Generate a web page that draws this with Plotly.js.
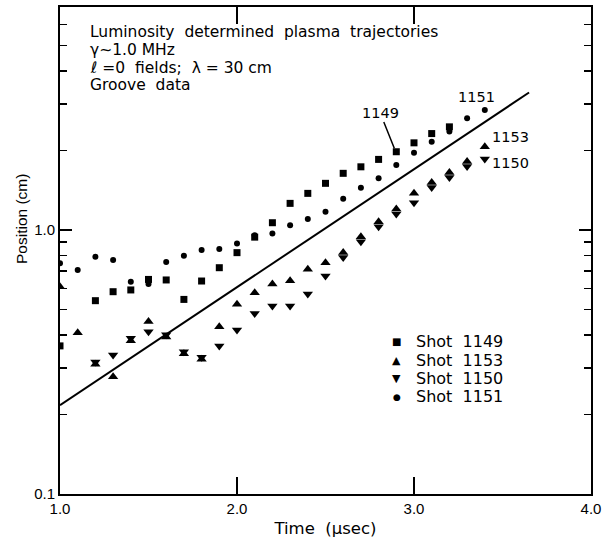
<!DOCTYPE html>
<html>
<head>
<meta charset="utf-8">
<script src="https://cdn.plot.ly/plotly-3.0.1.min.js"></script>
<style>
html,body{margin:0;padding:0;background:#fff;}
#chart{width:607px;height:543px;}
</style>
</head>
<body>
<div id="chart"></div>
<script>
// ---- data (time in microseconds, position in cm) ----
const time1149 = [1.0,1.2,1.3,1.4,1.5,1.6,1.7,1.8,1.9,2.0,2.1,2.2,2.3,2.4,2.5,2.6,2.7,2.8,2.9,3.0,3.1,3.2];
const shot1149 = [0.364,0.540,0.584,0.593,0.650,0.647,0.546,0.641,0.720,0.821,0.940,1.066,1.262,1.377,1.503,1.640,1.736,1.852,1.98,2.14,2.32,2.46];

const time1153 = [1.0,1.1,1.2,1.3,1.4,1.5,1.6,1.7,1.8,1.9,2.0,2.1,2.2,2.3,2.4,2.5,2.6,2.7,2.8,2.9,3.0,3.1,3.2,3.3,3.4];
const shot1153 = [0.610,0.408,0.310,0.278,0.381,0.450,0.393,0.340,0.324,0.430,0.524,0.579,0.624,0.643,0.710,0.752,0.822,0.943,1.075,1.201,1.377,1.513,1.651,1.817,2.07];

const time1150 = [1.2,1.3,1.4,1.5,1.6,1.7,1.8,1.9,2.0,2.1,2.2,2.3,2.4,2.5,2.6,2.7,2.8,2.9,3.0,3.1,3.2,3.3,3.4];
const shot1150 = [0.316,0.336,0.389,0.412,0.401,0.346,0.330,0.364,0.418,0.483,0.515,0.515,0.572,0.670,0.787,0.903,1.029,1.150,1.269,1.449,1.580,1.740,1.86];

const time1151 = [1.0,1.1,1.2,1.3,1.4,1.5,1.6,1.7,1.8,1.9,2.0,2.1,2.2,2.3,2.4,2.5,2.6,2.7,2.8,2.9,3.0,3.1,3.2,3.3,3.4];
const shot1151 = [0.748,0.706,0.792,0.770,0.637,0.624,0.757,0.799,0.840,0.847,0.890,0.955,0.971,1.042,1.101,1.173,1.314,1.446,1.57,1.763,1.963,2.16,2.36,2.65,2.85];

const fitTime = [1.0, 3.65];
const fitPosition = [0.217, 3.32];

const seriesNames = ['Shot 1149','Shot 1153','Shot 1150','Shot 1151'];
const legendLabels = ['Shot\u00a0\u00a01149','Shot\u00a0\u00a01153','Shot\u00a0\u00a01150','Shot\u00a0\u00a01151'];
const legendSymbols = ['\u25A0','\u25B2','\u25BC','\u25CF'];

const xTickVals = [1,2,3,4];
const xTickText = ['1.0','2.0','3.0','4.0'];
const yTickVals = [0.1,1];
const yTickText = ['0.1','1.0'];
const yMinorVals = [0.2,0.3,0.4,0.5,0.6,0.7,0.8,0.9,2,3,4,5,6];

const noteLines = [
  'Luminosity\u00a0\u00a0determined\u00a0\u00a0plasma\u00a0\u00a0trajectories',
  '\u03B3\u223C1.0\u00a0MHz',
  '\u2113\u00a0=0\u00a0\u00a0fields;\u00a0\u00a0\u03BB\u00a0=\u00a030\u00a0cm',
  'Groove\u00a0\u00a0data'
];

// ---- traces ----
const black = '#000';
const traces = [
  {x: fitTime, y: fitPosition, mode:'lines', line:{color:black, width:2}, name:'fit', hoverinfo:'skip'},
  {x: time1149, y: shot1149, mode:'markers', name: seriesNames[0], marker:{symbol:'square', size:7, color:black}},
  {x: time1153, y: shot1153, mode:'markers', name: seriesNames[1], marker:{symbol:'triangle-up', size:9, color:black}},
  {x: time1150, y: shot1150, mode:'markers', name: seriesNames[2], marker:{symbol:'triangle-down', size:9, color:black}},
  {x: time1151, y: shot1151, mode:'markers', name: seriesNames[3], marker:{symbol:'circle', size:6, color:black}}
];

// ---- layout helpers (pixel -> paper) ----
const L = 60, R = 591, T = 7, B = 494;
const px = v => (v - L) / (R - L);
const py = v => (B - v) / (B - T);

const annotations = [];
const noteY = [32, 50, 68, 85];
noteLines.forEach((s, i) => annotations.push({
  xref:'paper', yref:'paper', x:px(88), y:py(noteY[i]), xanchor:'left', yanchor:'middle',
  text:s, showarrow:false, font:{family:'DejaVu Sans', size:15.5, color:black}
}));

// shot labels
annotations.push({xref:'paper', yref:'paper', x:px(394.3), y:py(148.3), ax:380-394.3, ay:112.5-148.3,
  text:'1149', showarrow:true, arrowhead:0, arrowwidth:1.5, arrowcolor:black, standoff:0,
  font:{family:'DejaVu Sans', size:14.5, color:black}});
annotations.push({xref:'paper', yref:'paper', x:px(476.7), y:py(97.5), xanchor:'center', yanchor:'middle', text:'1151', showarrow:false, font:{family:'DejaVu Sans', size:14.5, color:black}});
annotations.push({xref:'paper', yref:'paper', x:px(490), y:py(137), xanchor:'left', yanchor:'middle', text:'1153', showarrow:false, font:{family:'DejaVu Sans', size:14.5, color:black}});
annotations.push({xref:'paper', yref:'paper', x:px(490), y:py(163.5), xanchor:'left', yanchor:'middle', text:'1150', showarrow:false, font:{family:'DejaVu Sans', size:14.5, color:black}});

// legend (drawn as text)
const legY = [341.7, 360, 378.3, 396.7];
const legSize = [10, 11, 11, 9];
legendLabels.forEach((s, i) => {
  annotations.push({xref:'paper', yref:'paper', x:px(396.7), y:py(legY[i]), xanchor:'center', yanchor:'middle',
    text:legendSymbols[i], showarrow:false, font:{family:'DejaVu Sans', size:legSize[i], color:black}});
  annotations.push({xref:'paper', yref:'paper', x:px(414), y:py(legY[i]), xanchor:'left', yanchor:'middle',
    text:s, showarrow:false, font:{family:'DejaVu Sans', size:16, color:black}});
});

// y axis title
annotations.push({xref:'paper', yref:'paper', x:px(21), y:py(219), xanchor:'center', yanchor:'middle', textangle:-90,
  text:'Position\u00a0(cm)', showarrow:false, font:{family:'Liberation Sans', size:15.5, color:black}});

const layout = {
  width:607, height:543,
  margin:{l:L, r:607-R, t:T, b:543-B, pad:0},
  paper_bgcolor:'#fff', plot_bgcolor:'#fff',
  showlegend:false,
  font:{family:'DejaVu Sans, sans-serif', color:black},
  xaxis:{
    type:'linear', range:[1,4], tickmode:'array', tickvals:xTickVals, ticktext:xTickText,
    ticks:'inside', ticklen:17, tickwidth:1.5, tickcolor:black,
    showline:true, linecolor:black, linewidth:2, mirror:'ticks',
    showgrid:false, zeroline:false,
    tickfont:{family:'Liberation Sans', size:15, color:black},
    title:{text:'Time\u00a0\u00a0(\u03BCsec)', font:{family:'DejaVu Sans', size:16.5, color:black}, standoff:6}
  },
  yaxis:{
    type:'log', range:[-1, 0.845], tickmode:'array', tickvals:yTickVals, ticktext:yTickText,
    ticks:'inside', ticklen:12, tickwidth:1.5, tickcolor:black,
    minor:{tickmode:'array', tickvals:yMinorVals, ticks:'inside', ticklen:7, tickwidth:1.5, tickcolor:black, showgrid:false},
    showline:true, linecolor:black, linewidth:2, mirror:'ticks',
    showgrid:false, zeroline:false,
    tickfont:{family:'Liberation Sans', size:15, color:black}
  },
  annotations: annotations
};

Plotly.newPlot('chart', traces, layout, {staticPlot:true, displayModeBar:false});
</script>
</body>
</html>
